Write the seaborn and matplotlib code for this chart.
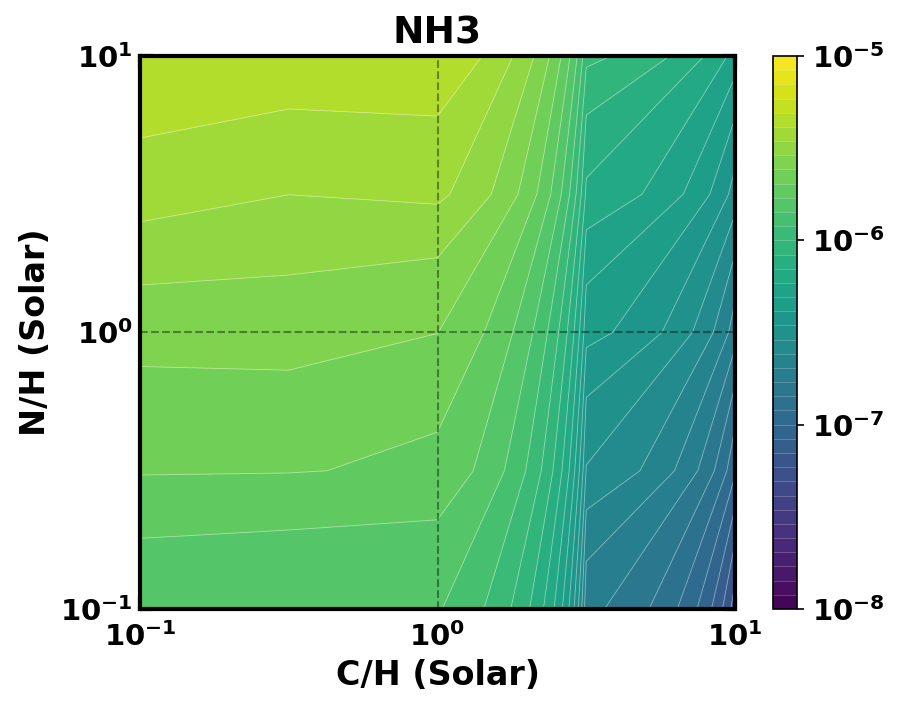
import numpy as np
import matplotlib
matplotlib.use("Agg")
import matplotlib.pyplot as plt
import seaborn as sns
from matplotlib.colors import LogNorm
from matplotlib.ticker import FuncFormatter

# -----------------------------
# DATA (NH3 abundance on the C/H x N/H grid, in solar units)
# -----------------------------
ch_solar = [0.1, 0.3162, 1.0, 3.162, 10.0]
nh_solar = [0.1, 0.3162, 1.0, 3.162, 10.0]

# one list per N/H row, values along C/H
nh3_nh_0p1 = [1.49e-6, 1.44e-6, 1.447e-6, 1.79e-7, 5.3e-8]
nh3_nh_0p3 = [2.06e-6, 2.047e-6, 1.946e-6, 2.86e-7, 1.03e-7]
nh3_nh_1 = [2.63e-6, 2.67e-6, 2.43e-6, 4.39e-7, 1.85e-7]
nh3_nh_3 = [3.81e-6, 3.46e-6, 3.59e-6, 6.77e-7, 3.2e-7]
nh3_nh_10 = [4.95e-6, 4.85e-6, 4.85e-6, 1.049e-6, 5.45e-7]

levels = np.logspace(-8, -5, 40)
cbar_ticks = [1e-8, 1e-7, 1e-6, 1e-5]

# -----------------------------
# STYLE
# -----------------------------
sns.set_style("ticks", {'axes.edgecolor': 'black', 'text.color': 'black',
                        'axes.labelcolor': 'black', 'xtick.color': 'black',
                        'ytick.color': 'black'})
plt.rcParams['font.family'] = ['DejaVu Sans']
plt.rcParams['font.weight'] = 'bold'
plt.rcParams['mathtext.fontset'] = 'dejavusans'

cmap = sns.color_palette("viridis", as_cmap=True)
norm = LogNorm(vmin=1e-8, vmax=1e-5)

X, Y = np.meshgrid(ch_solar, nh_solar)
Z = np.array([nh3_nh_0p1, nh3_nh_0p3, nh3_nh_1, nh3_nh_3, nh3_nh_10])

fig = plt.figure(figsize=(6, 4.7067), dpi=150)
ax = fig.add_axes([140 / 900, 1 - 609 / 706, 595 / 900, 553 / 706])
cax = fig.add_axes([773 / 900, 1 - 609 / 706, 24 / 900, 553 / 706])

cs = ax.contourf(X, Y, Z, levels=levels, cmap=cmap, norm=norm)
# faint seams between the filled bands
seams = ax.contour(X, Y, Z, levels=levels, colors='white',
                   linewidths=0.4, alpha=0.45)

ax.set_xscale('log')
ax.set_yscale('log')
ax.set_xlim(0.1, 10)
ax.set_ylim(0.1, 10)

ax.axvline(1, color='black', linestyle='--', linewidth=1, alpha=0.4)
ax.axhline(1, color='black', linestyle='--', linewidth=1, alpha=0.4)

pow_fmt = FuncFormatter(lambda v, pos: r'$\mathbf{10^{%d}}$' % int(round(np.log10(v))))
ax.xaxis.set_major_formatter(pow_fmt)
ax.yaxis.set_major_formatter(pow_fmt)

ax.tick_params(which='major', direction='in', length=6, width=2,
               top=True, right=True, labelsize=14)
ax.tick_params(which='minor', direction='in', length=4, width=1.5,
               top=False, right=False)
ax.tick_params(axis='x', which='major', pad=6.5)
for sp in ax.spines.values():
    sp.set_linewidth(2)
    sp.set_color('black')

ax.set_xlabel("C/H (Solar)", fontsize=16, fontweight='bold', labelpad=3)
ax.set_ylabel("N/H (Solar)", fontsize=16, fontweight='bold')
ax.set_title("NH3", fontsize=18, fontweight='bold', pad=6)

cbar = fig.colorbar(cs, cax=cax)
cbar.set_ticks(cbar_ticks)
cbar.ax.yaxis.set_major_formatter(pow_fmt)
cbar.ax.minorticks_off()
cbar.ax.tick_params(labelsize=14, length=3.5, width=0.8)
cbar.outline.set_linewidth(0.8)
cbar.outline.set_edgecolor('black')
cbar.ax.hlines(levels, 0, 1, colors='white', linewidths=0.3, alpha=0.35)

fig.savefig("out.png", dpi=150)
